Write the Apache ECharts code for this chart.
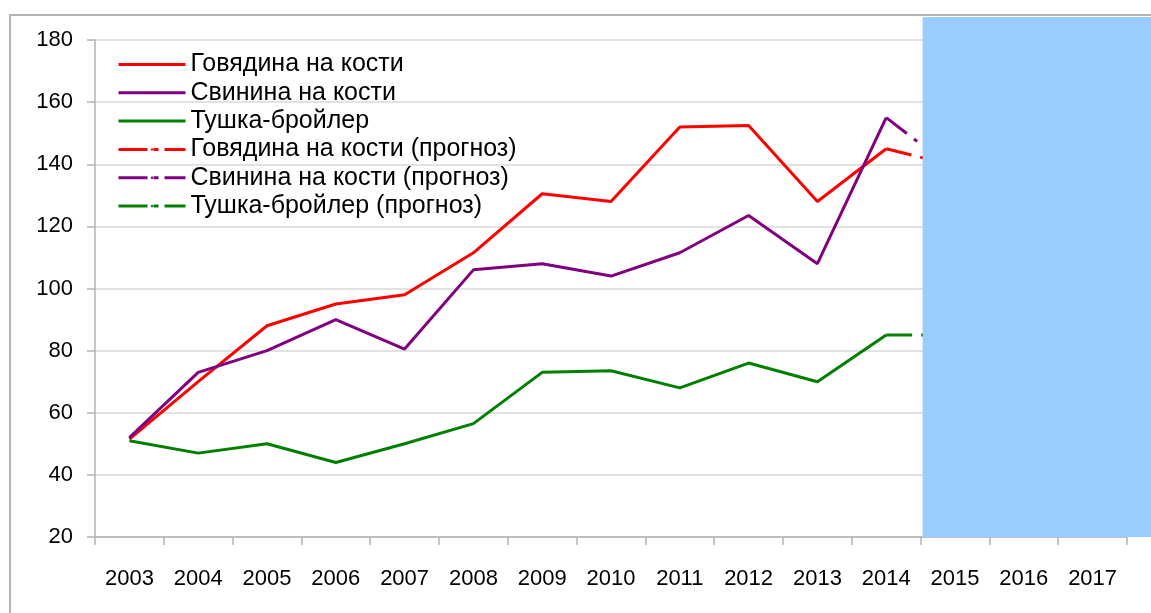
<!DOCTYPE html>
<html>
<head>
<meta charset="utf-8">
<script src="https://cdn.jsdelivr.net/npm/echarts@6/dist/echarts.min.js"></script>
<style>
  html, body { margin: 0; padding: 0; background: #fff; }
  #chart { width: 1151px; height: 613px; }
</style>
</head>
<body>
<div id="chart"></div>
<script>
const years = ['2003', '2004', '2005', '2006', '2007', '2008', '2009', '2010', '2011', '2012', '2013', '2014', '2015', '2016', '2017']
const yTicks = [20, 40, 60, 80, 100, 120, 140, 160, 180]

// факт 2003-2014
const beef = [51.5, 70, 88, 95, 98, 111.5, 130.5, 128, 152, 152.5, 128, 145]
const pork = [52, 73, 80, 90, 80.5, 106, 108, 104, 111.5, 123.5, 108, 155]
const broiler = [51, 47, 50, 44, 50, 56.5, 73, 73.5, 68, 76, 70, 85]

// прогноз 2014-2015 (дальше скрыт под синей областью)
const beefForecast = [145, 139.5]
const porkForecast = [155, 138]
const broilerForecast = [85, 85]
const forecastStart = '2014'
const shadeFrom = '2015'

const seriesNames = [
  'Говядина на кости',
  'Свинина на кости',
  'Тушка-бройлер',
  'Говядина на кости (прогноз)',
  'Свинина на кости (прогноз)',
  'Тушка-бройлер (прогноз)'
]

function padForecast(vals) {
  const start = years.indexOf(forecastStart)
  const out = years.map(() => null)
  vals.forEach((v, i) => { out[start + i] = v })
  return out
}

const chart = echarts.init(document.getElementById('chart'))
const colors = ['#ff0000', '#800080', '#008000']
const dashDot = [26, 9, 4, 9]
const legendDash = [29, 6, 5, 6]
const font = '"Liberation Sans", Arial, sans-serif'

function makeSeries(name, data, color, dashed) {
  return {
    name: name,
    type: 'line',
    data: data,
    symbol: 'none',
    lineStyle: { color: color, width: 3, type: dashed ? dashDot : 'solid', cap: 'butt' },
    itemStyle: { color: color }
  }
}

const series = [
  makeSeries(seriesNames[0], beef, colors[0], false),
  makeSeries(seriesNames[1], pork, colors[1], false),
  makeSeries(seriesNames[2], broiler, colors[2], false),
  makeSeries(seriesNames[3], padForecast(beefForecast), colors[0], true),
  makeSeries(seriesNames[4], padForecast(porkForecast), colors[1], true),
  makeSeries(seriesNames[5], padForecast(broilerForecast), colors[2], true)
]

chart.setOption({
  animation: false,
  backgroundColor: '#fff',
  grid: { left: 95, top: 40, right: 24, bottom: 76 },
  legend: {
    orient: 'vertical',
    left: 117,
    top: 52,
    padding: 0,
    itemWidth: 67,
    itemHeight: 3,
    itemGap: 3.3,
    lineStyle: { width: 3 },
    data: seriesNames.map((n, i) => ({
      name: n,
      lineStyle: i >= 3 ? { type: legendDash } : {}
    })),
    textStyle: { fontFamily: font, fontSize: 25, color: '#000' }
  },
  xAxis: {
    type: 'category',
    data: years,
    boundaryGap: true,
    axisLine: { lineStyle: { color: '#b3b3b3', width: 1.5 } },
    axisTick: { show: true, length: 8, lineStyle: { color: '#b3b3b3', width: 1.5 } },
    axisLabel: { fontFamily: font, fontSize: 22, color: '#000', margin: 31 },
    splitLine: { show: false }
  },
  yAxis: {
    type: 'value',
    min: yTicks[0],
    max: yTicks[yTicks.length - 1],
    interval: 20,
    axisLine: { show: true, lineStyle: { color: '#b3b3b3', width: 1.5 } },
    axisTick: { show: true, length: 8, lineStyle: { color: '#b3b3b3', width: 1.5 } },
    axisLabel: { fontFamily: font, fontSize: 22, color: '#000', margin: 22 },
    splitLine: { lineStyle: { color: '#d9d9d9', width: 1.5 } }
  },
  series: series
})

// синяя область прогноза и рамка
const xPrev = chart.convertToPixel({ xAxisIndex: 0 }, forecastStart)
const xNext = chart.convertToPixel({ xAxisIndex: 0 }, shadeFrom)
const shadeLeft = (xPrev + xNext) / 2
const yBottom = chart.convertToPixel({ yAxisIndex: 0 }, yTicks[0])

chart.setOption({
  graphic: [
    {
      type: 'rect',
      z: 100,
      shape: { x: shadeLeft + 2, y: 17, width: chart.getWidth() - shadeLeft, height: yBottom - 17 },
      style: { fill: '#99ccff' }
    },
    {
      type: 'rect',
      z: 101,
      shape: { x: 10, y: 15, width: 3000, height: 3000 },
      style: { fill: 'none', stroke: '#b4b4b4', lineWidth: 2 }
    }
  ]
})
</script>
</body>
</html>
